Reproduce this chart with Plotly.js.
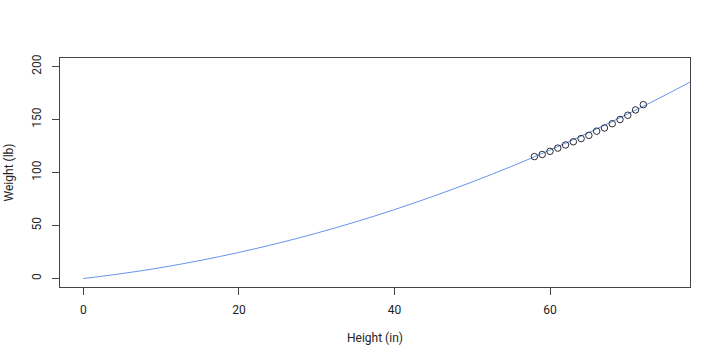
<!DOCTYPE html>
<html>
<head>
<meta charset="utf-8">
<script src="https://cdn.plot.ly/plotly-3.0.1.min.js"></script>
<style>html,body{margin:0;padding:0;background:#fff;}#chart{width:720px;height:360px;}</style>
</head>
<body>
<div id="chart"></div>
<script>
// Observed data (women dataset)
var heights = [58, 59, 60, 61, 62, 63, 64, 65, 66, 67, 68, 69, 70, 71, 72];
var weights = [115, 117, 120, 123, 126, 129, 132, 135, 139, 142, 146, 150, 154, 159, 164];

// Fitted curve, values
var curveX = [0, 5, 10, 15, 20, 25, 30, 35, 40, 45, 50, 55, 60, 65, 70, 75, 78, 80];
var curveY = [0, 4.7, 10.3, 17.0, 24.6, 33.2, 42.8, 53.4, 65.0, 77.6, 91.1, 105.6, 121.2, 137.7, 155.2, 173.7, 185.3, 193.2];

var xTicks = [0, 20, 40, 60];
var yTicks = [0, 50, 100, 150, 200];

var font = {family: 'Roboto, "Liberation Sans", sans-serif', size: 12, color: '#222'};

var traces = [
  {x: curveX, y: curveY, type: 'scatter', mode: 'lines',
   line: {color: '#6495ED', width: 1, shape: 'spline'}, hoverinfo: 'skip'},
  {x: heights, y: weights, type: 'scatter', mode: 'markers',
   marker: {symbol: 'circle-open', size: 6.5, color: '#2b2b3a', line: {width: 1, color: '#2b2b3a'}}}
];

var layout = {
  width: 720, height: 360,
  margin: {l: 60, r: 30, t: 58, b: 73},
  paper_bgcolor: '#fff', plot_bgcolor: '#fff',
  showlegend: false,
  font: font,
  xaxis: {
    range: [-3, 78], tickvals: xTicks, ticktext: xTicks.map(String),
    ticks: 'outside', ticklen: 7, tickcolor: '#444', tickwidth: 1,
    showline: true, mirror: true, linecolor: '#444', linewidth: 1,
    showgrid: false, zeroline: false, ticklabelstandoff: 5,
    title: {text: 'Height (in)', font: font, standoff: 17}
  },
  yaxis: {
    range: [-8, 208], tickvals: yTicks, ticktext: yTicks.map(String),
    ticks: 'outside', ticklen: 7, tickcolor: '#444', tickwidth: 1, tickangle: -90,
    showline: true, mirror: true, linecolor: '#444', linewidth: 1,
    showgrid: false, zeroline: false, ticklabelstandoff: 6,
    title: {text: 'Weight (lb)', font: font, standoff: 14}
  }
};

Plotly.newPlot('chart', traces, layout, {staticPlot: true, displayModeBar: false});
</script>
</body>
</html>
